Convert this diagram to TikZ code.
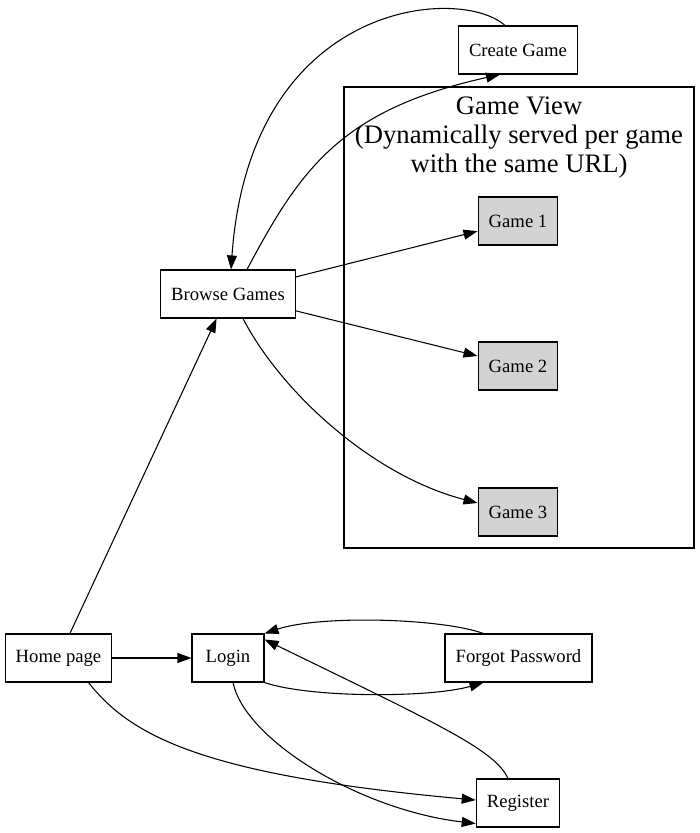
\documentclass[tikz,border=0pt]{standalone}
\usepackage{fontspec}
\setmainfont{Liberation Serif}
\usetikzlibrary{arrows.meta,calc}
\definecolor{lgray}{HTML}{D3D3D3}
\begin{document}
\begin{tikzpicture}[x=0.75pt,y=-0.75pt,
  box/.style={draw, line width=0.8pt, rectangle, minimum height=36pt, minimum width=54pt, inner xsep=8pt, font=\fontsize{14}{16.8}\selectfont},
  gamebox/.style={box, fill=lgray},
  edge/.style={line width=0.8pt, -{Triangle[length=10.5pt,width=7.5pt]}},
  clusterbox/.style={draw, line width=0.8pt},
  titletext/.style={anchor=north, inner sep=0pt, align=center, font=\fontsize{20}{21.75}\selectfont}]
\useasboundingbox (0,0) rectangle (700,833);
% cluster
\draw[clusterbox] (344,87) rectangle (694,548);
\node[titletext] (title) at (519,97) {Game View\\(Dynamically served per game\\with the same URL)};
% nodes
\node[box] (create) at (518,50) {Create Game};
\node[gamebox] (game1) at (518,221) {Game 1};
\node[gamebox] (game2) at (518,366) {Game 2};
\node[gamebox] (game3) at (518,512) {Game 3};
\node[box] (browse) at (228,294) {Browse Games};
\node[box] (home) at (58.5,658) {Home page};
\node[box] (login) at (228,658) {Login};
\node[box] (forgot) at (518.5,658) {Forgot Password};
\node[box] (register) at (518,803) {Register};
% edges
\draw[edge] ($(create.north)+(-13,0)$) .. controls (460,-15) and (250,0) .. ($(browse.north)+(3,0)$);
\draw[edge] ($(browse.north)+(19,0)$) .. controls (300,170) and (340,110) .. ($(create.south)+(-18,0)$);
\draw[edge] (browse) -- (game1);
\draw[edge] (browse) -- (game2);
\draw[edge] ($(browse.south)+(15,0)$) .. controls (280,390) and (370,475) .. ($(game3.west)+(0,-9)$);
\draw[edge] (home) -- (browse);
\draw[edge] (home) -- (login);
\draw[edge] (login.south east) .. controls (310,698) and (430,698) .. ($(forgot.south)+(-35,0)$);
\draw[edge] ($(forgot.north)+(-35,0)$) .. controls (440,618) and (320,615) .. (login.north east);
\draw[edge] ($(register.north)+(-10,0)$) .. controls (495,750) and (440,725) .. ($(login.north east)+(0,6)$);
\draw[edge] ($(home.south)+(30,0)$) .. controls (130,735) and (200,775) .. ($(register.west)+(0,-3)$);
\draw[edge] ($(login.south)+(5,0)$) .. controls (245,740) and (360,810) .. ($(register.south west)+(0,-4)$);
\end{tikzpicture}
\end{document}
